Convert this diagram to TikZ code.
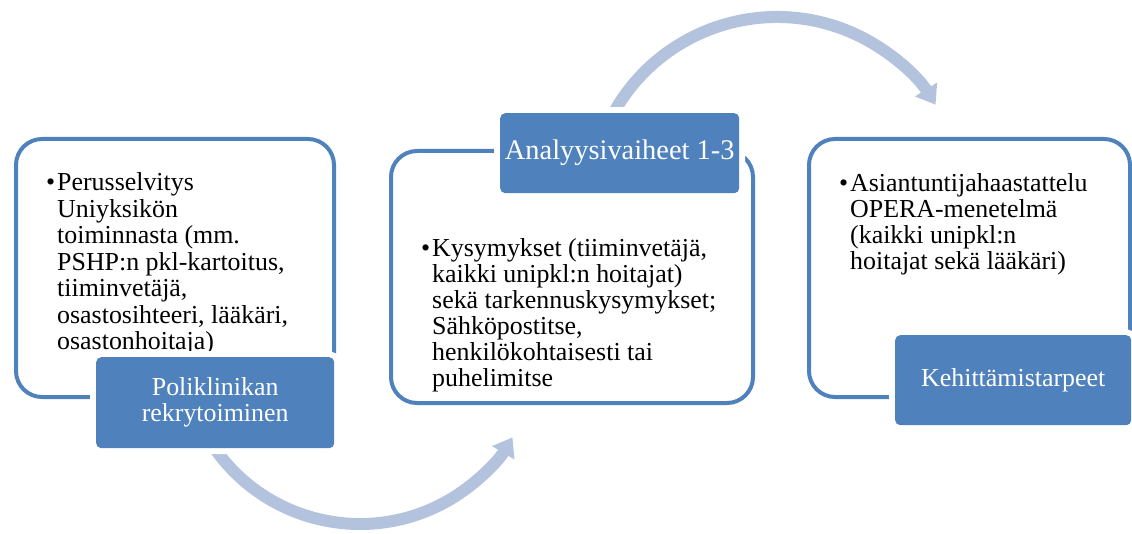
\documentclass[tikz,border=0pt]{standalone}
\usepackage{fontspec}
\setmainfont{Liberation Serif}
\usetikzlibrary{arrows.meta}
\definecolor{acc}{HTML}{4F81BD}
\definecolor{arr}{HTML}{B3C3DE}
\begin{document}
\begin{tikzpicture}[x=1bp,y=-1bp,
  frame/.style={draw=acc, line width=4bp, rounded corners=26bp, inner sep=0pt, anchor=north west},
  labelbox/.style={fill=acc, rounded corners=5bp, inner sep=0pt, anchor=north west,
    preaction={draw=white, line width=12bp}, text=white, align=center},
  bodytext/.style={anchor=base west, inner sep=0pt},
  flow/.style={draw=arr, line width=12bp, -{Triangle[width=25bp, length=18bp]}}
]
\useasboundingbox (0,0) rectangle (1132,534);

% arcs
\draw[flow] (360,346.5) ++(146:177.5) coordinate (a1s) arc[start angle=146, end angle=30.8, radius=177.5];
\draw[flow] (777,204.2) ++(208:187.2) coordinate (a2s) arc[start angle=208, end angle=327.9, radius=187.2];

% frames
\node[frame, minimum width=318bp, minimum height=258bp] (b1) at (14,137) {};
\node[frame, minimum width=362bp, minimum height=252bp] (b2) at (389,149) {};
\node[frame, minimum width=321bp, minimum height=258bp] (b3) at (807,137) {};

% body texts
\node[bodytext] (t1b) at (46,191) {\fontsize{26}{26.5}\selectfont •};
\node[bodytext] (t1) at (57,191) {\parbox[t]{280bp}{\fontsize{26}{26.5}\selectfont Perusselvitys\\Uniyksikön\\toiminnasta (mm.\\PSHP:n pkl-kartoitus,\\tiiminvetäjä,\\osastosihteeri, lääkäri,\\osastonhoitaja)}};

\node[bodytext] (t2b) at (421,257) {\fontsize{26}{26}\selectfont •};
\node[bodytext] (t2) at (432,257) {\parbox[t]{300bp}{\fontsize{26}{26}\selectfont Kysymykset (tiiminvetäjä,\\kaikki unipkl:n hoitajat)\\sekä tarkennuskysymykset;\\Sähköpostitse,\\henkilökohtaisesti tai\\puhelimitse}};

\node[bodytext] (t3b) at (839,192) {\fontsize{26}{26}\selectfont •};
\node[bodytext] (t3) at (850,192) {\parbox[t]{270bp}{\fontsize{26}{26}\selectfont Asiantuntijahaastattelu\\OPERA-menetelmä\\(kaikki unipkl:n\\hoitajat sekä lääkäri)}};

% labels
\node[labelbox, minimum width=238bp, minimum height=91bp, font=\fontsize{26}{26}\selectfont] (l1) at (96,357) {Poliklinikan\\rekrytoiminen};
\node[labelbox, minimum width=239bp, minimum height=80bp, font=\fontsize{28.5}{30}\selectfont] (l2) at (500,113) {Analyysivaiheet 1-3};
\node[labelbox, minimum width=236bp, minimum height=90bp, font=\fontsize{26}{27}\selectfont] (l3) at (895,335) {Kehittämistarpeet};
\end{tikzpicture}
\end{document}
